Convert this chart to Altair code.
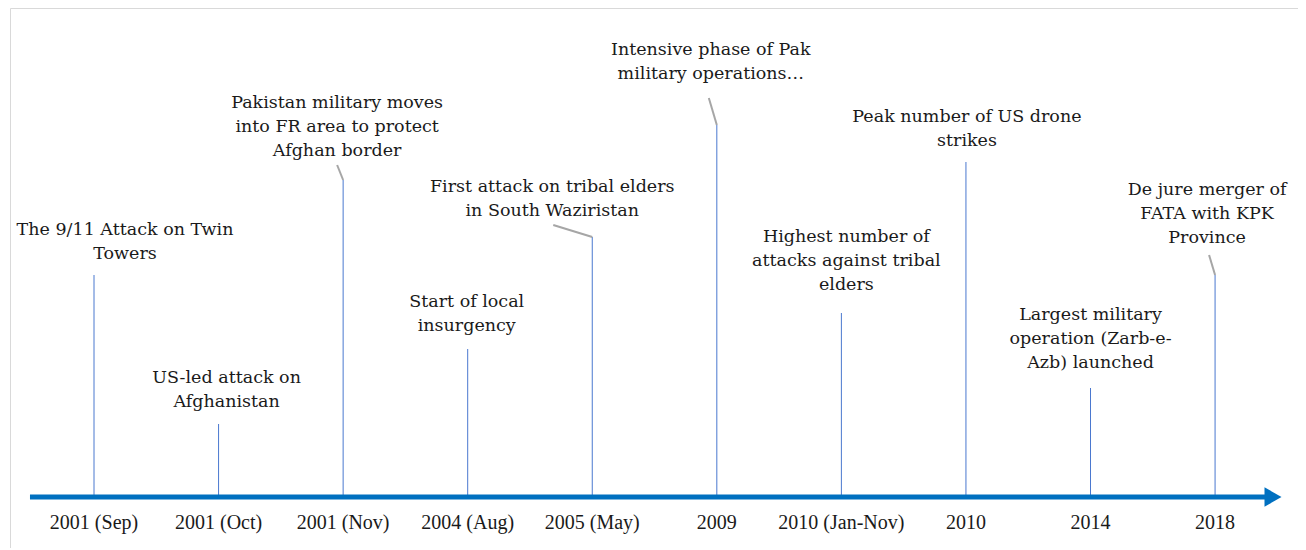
import altair as alt
import pandas as pd

# ---- data ----
dates = ["2001 (Sep)", "2001 (Oct)", "2001 (Nov)", "2004 (Aug)", "2005 (May)",
         "2009", "2010 (Jan-Nov)", "2010", "2014", "2018"]
descriptions = [
    ["The 9/11 Attack on Twin", "Towers"],
    ["US-led attack on", "Afghanistan"],
    ["Pakistan military moves", "into FR area to protect", "Afghan border"],
    ["Start of local", "insurgency"],
    ["First attack on tribal elders", "in South Waziristan"],
    ["Intensive phase of Pak", "military operations\u2026"],
    ["Highest number of", "attacks against tribal", "elders"],
    ["Peak number of US drone", "strikes"],
    ["Largest military", "operation (Zarb-e-", "Azb) launched"],
    ["De jure merger of", "FATA with KPK", "Province"],
]
stem_height = [222, 73, 317, 148, 260, 372, 184, 335, 109, 222]

# annotation placement (label block first-line height, horizontal shift in px)
label_top = [267, 119, 394, 195, 310, 447, 260, 380, 182, 307]
label_shift = [31, 8, -6, -1, -40, -6, 5, 1, 0, -8]
# connector leaders: event index, start shift (px), start height
leader_event = [2, 4, 5, 9]
leader_shift = [-6, -39, -8, -6]
leader_height = [332, 272, 399, 242]

SPACING = 124.56  # px per event slot
LH = 24

n = len(dates)
idx = list(range(n))

stems = pd.DataFrame({"i": idx, "h": stem_height, "zero": [0] * n})
bottom = pd.DataFrame({"i": idx, "label": dates, "v": [-26] * n})

rows = []
for i, lines in enumerate(descriptions):
    for k, line in enumerate(lines):
        rows.append({"i": i + label_shift[i] / SPACING,
                     "v": label_top[i] - k * LH, "text": line})
labels = pd.DataFrame(rows)

leaders = pd.DataFrame({
    "x1": [leader_event[j] + leader_shift[j] / SPACING for j in range(len(leader_event))],
    "y1": leader_height,
    "x2": leader_event,
    "y2": [stem_height[e] for e in leader_event],
})

axis_df = pd.DataFrame({"x1": [-0.514], "x2": [9.42], "y": [0]})
head_df = pd.DataFrame({"x": [9.465], "y": [0]})

xs = alt.Scale(domain=[-0.6744, 9.6657])
ys = alt.Scale(domain=[-51, 489])
X = lambda f: alt.X(f, type="quantitative", scale=xs, axis=None)
Y = lambda f: alt.Y(f, type="quantitative", scale=ys, axis=None)

stem_layer = alt.Chart(stems).mark_rule(color="#4A78CF", strokeWidth=1).encode(
    x=X("i"), y=Y("zero"), y2="h")

leader_layer = alt.Chart(leaders).mark_rule(color="#A6A6A6", strokeWidth=2).encode(
    x=X("x1"), y=Y("y1"), x2="x2", y2="y2")

axis_layer = alt.Chart(axis_df).mark_rule(color="#0070C0", strokeWidth=5).encode(
    x=X("x1"), x2="x2", y=Y("y"))

head_layer = alt.Chart(head_df).mark_point(
    shape="M-1,-1.15L1,0L-1,1.15Z", filled=True, fill="#0070C0", stroke=None,
    opacity=1, size=289).encode(x=X("x"), y=Y("y"))

label_layer = alt.Chart(labels).mark_text(
    font="DejaVu Serif", fontSize=17.5, color="#1a1a1a", align="center",
    baseline="middle").encode(x=X("i"), y=Y("v"), text="text")

date_layer = alt.Chart(bottom).mark_text(
    font="Liberation Serif", fontSize=20, color="#1a1a1a", align="center",
    baseline="middle").encode(x=X("i"), y=Y("v"), text="label")

chart = alt.layer(stem_layer, leader_layer, axis_layer, head_layer,
                  label_layer, date_layer).properties(
    width=1288, height=540,
    padding={"left": 2, "top": 0, "right": 0, "bottom": 0},
    autosize=alt.AutoSizeParams(type="none"),
).configure_view(stroke="#D9D9D9", strokeWidth=1)

chart.save("out.html", embed_options={"renderer": "svg", "actions": False})
